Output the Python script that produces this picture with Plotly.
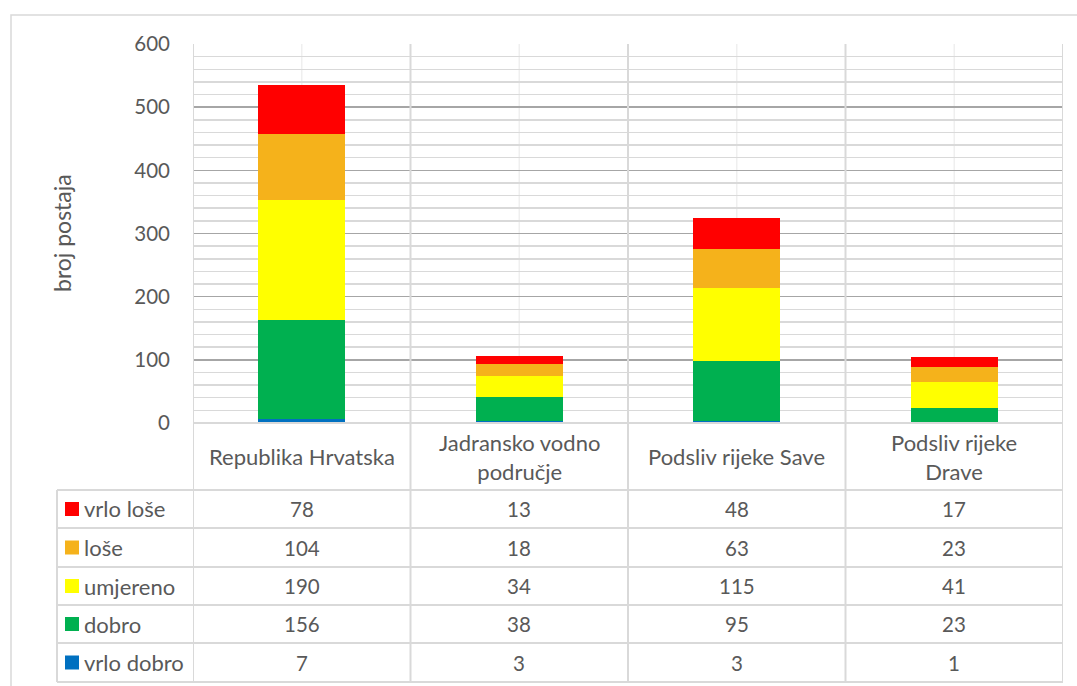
import plotly.graph_objects as go

# ---- data ----
categories = ["Republika Hrvatska", "Jadransko vodno područje",
              "Podsliv rijeke Save", "Podsliv rijeke Drave"]
category_labels = ["Republika Hrvatska", "Jadransko vodno<br>područje",
                   "Podsliv rijeke Save", "Podsliv rijeke<br>Drave"]
series_names = ["vrlo dobro", "dobro", "umjereno", "loše", "vrlo loše"]
vrlo_dobro = [7, 3, 3, 1]
dobro = [156, 38, 95, 23]
umjereno = [190, 34, 115, 41]
lose = [104, 18, 63, 23]
vrlo_lose = [78, 13, 48, 17]
series_values = [vrlo_dobro, dobro, umjereno, lose, vrlo_lose]
series_colors = ["#0070c0", "#00b050", "#ffff00", "#f5b21b", "#ff0000"]
y_ticks = [0, 100, 200, 300, 400, 500, 600]
y_title = "broj postaja"

# ---- geometry (pixels) ----
W, H = 1077, 686
FONT = "Lato"
TXT = "#595959"
LINE = "#d9d9d9"
plot_l, plot_r, plot_t, plot_b = 193, 1063, 44, 423
table_l = 57
row_edges = [490, 528, 567, 605, 643, 682]


def px(x):
    return x / W


def py(y):
    return 1 - y / H


fig = go.Figure()
for name, vals, col in zip(series_names, series_values, series_colors):
    fig.add_trace(go.Bar(x=categories, y=vals, name=name, width=0.4,
                         marker=dict(color=col, line=dict(width=0)),
                         showlegend=False, hoverinfo="skip"))

shapes = []
annotations = []

# outer chart border
shapes.append(dict(type="rect", xref="paper", yref="paper",
                   x0=px(11), x1=px(W + 5), y0=py(H + 5), y1=py(15),
                   line=dict(color=LINE, width=1.5), fillcolor="rgba(0,0,0,0)",
                   layer="below"))
# faint vertical lines at category centres
for c in categories:
    shapes.append(dict(type="line", xref="x", yref="paper", x0=c, x1=c,
                       y0=py(plot_b), y1=py(plot_t),
                       line=dict(color="#efefef", width=1.5), layer="below"))
# vertical lines at category boundaries (plot + table)
for i in range(len(categories) + 1):
    shapes.append(dict(type="line", xref="x", yref="paper", x0=i - 0.5, x1=i - 0.5,
                       y0=py(row_edges[-1]), y1=py(plot_t),
                       line=dict(color=LINE, width=2)))
# table left edge
shapes.append(dict(type="line", xref="paper", yref="paper", x0=px(table_l), x1=px(table_l),
                   y0=py(row_edges[-1]), y1=py(row_edges[0]),
                   line=dict(color=LINE, width=2)))
# axis line at zero
shapes.append(dict(type="line", xref="paper", yref="paper", x0=px(plot_l), x1=px(plot_r),
                   y0=py(plot_b), y1=py(plot_b), line=dict(color=LINE, width=2)))
# table horizontal lines
for yy in row_edges:
    shapes.append(dict(type="line", xref="paper", yref="paper", x0=px(table_l), x1=px(plot_r),
                       y0=py(yy), y1=py(yy), line=dict(color=LINE, width=2)))

# category labels row
for c, lab in zip(categories, category_labels):
    annotations.append(dict(x=c, xref="x", y=py((plot_b + row_edges[0]) / 2), yref="paper",
                            text=lab, showarrow=False, xanchor="center", yanchor="middle",
                            font=dict(family=FONT, size=22, color=TXT)))

# data rows (top to bottom: reverse stacking order)
rows = list(zip(series_names, series_values, series_colors))[::-1]
for r, (name, vals, col) in enumerate(rows):
    yc = (row_edges[r] + row_edges[r + 1]) / 2
    shapes.append(dict(type="rect", xref="paper", yref="paper",
                       x0=px(65), x1=px(79), y0=py(yc + 7), y1=py(yc - 7),
                       fillcolor=col, line=dict(width=0)))
    annotations.append(dict(x=px(82), xref="paper", y=py(yc), yref="paper", text=name,
                            showarrow=False, xanchor="left", yanchor="middle",
                            font=dict(family=FONT, size=22, color=TXT)))
    for c, v in zip(categories, vals):
        annotations.append(dict(x=c, xref="x", y=py(yc), yref="paper", text=str(v),
                                showarrow=False, xanchor="center", yanchor="middle",
                                font=dict(family=FONT, size=20.5, color=TXT)))

# y-axis title
annotations.append(dict(x=px(62), xref="paper", y=py(233), yref="paper", text=y_title,
                        textangle=-90, showarrow=False, xanchor="center", yanchor="middle",
                        font=dict(family=FONT, size=23, color=TXT)))

fig.update_layout(
    width=W, height=H, margin=dict(l=0, r=0, t=0, b=0, autoexpand=False),
    paper_bgcolor="white", plot_bgcolor="white",
    barmode="stack", bargap=0.6,
    showlegend=False, hovermode=False,
    shapes=shapes, annotations=annotations,
    xaxis=dict(domain=[px(plot_l), px(plot_r)], type="category",
               categoryorder="array", categoryarray=categories,
               range=[-0.5, len(categories) - 0.5], automargin=False,
               showticklabels=False, showgrid=False, zeroline=False, showline=False,
               fixedrange=True),
    yaxis=dict(domain=[py(plot_b), py(plot_t)], range=[0, 600], automargin=False,
               tickvals=y_ticks, ticktext=[str(t) for t in y_ticks],
               showgrid=True, gridcolor="#a6a6a6", gridwidth=1.5,
               minor=dict(dtick=20, showgrid=True, gridcolor=LINE, gridwidth=1.5),
               zeroline=False, showline=False, ticks="", ticklabelstandoff=22,
               tickfont=dict(family=FONT, size=20.5, color=TXT), fixedrange=True),
    font=dict(family=FONT, color=TXT),
)

fig.write_html(
    "out.html",
    config={"displayModeBar": False, "staticPlot": True},
    post_script="document.body.style.margin='0';",
)
